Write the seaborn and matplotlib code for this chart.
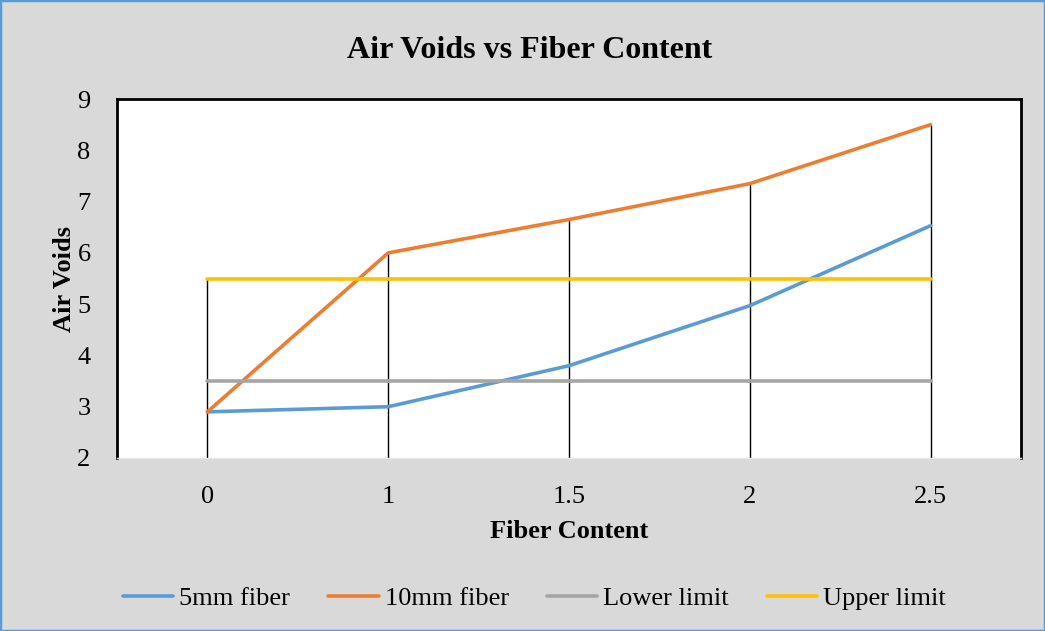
import matplotlib
matplotlib.use("Agg")
import matplotlib.pyplot as plt
import seaborn as sns
import pandas as pd
import numpy as np
from matplotlib.patches import Rectangle

categories = ["0", "1", "1.5", "2", "2.5"]
fiber_5mm = [2.9, 3.0, 3.8, 4.97, 6.53]
fiber_10mm = [2.9, 6.0, 6.65, 7.35, 8.5]
lower_limit = [3.5, 3.5, 3.5, 3.5, 3.5]
upper_limit = [5.5, 5.5, 5.5, 5.5, 5.5]

series_names = ["5mm fiber", "10mm fiber", "Lower limit", "Upper limit"]
colors = ["#5b9bd5", "#ed7d31", "#a5a5a5", "#ffc000"]

sns.set_theme(style="white")
plt.rcParams['font.family'] = ['Liberation Serif', 'DejaVu Serif']
plt.rcParams['text.color'] = 'black'
plt.rcParams['axes.labelcolor'] = 'black'
plt.rcParams['xtick.color'] = 'black'
plt.rcParams['ytick.color'] = 'black'

df = pd.DataFrame({
    "Fiber Content": categories * 4,
    "pos": list(range(len(categories))) * 4,
    "Air Voids": fiber_5mm + fiber_10mm + lower_limit + upper_limit,
    "Series": sum([[n] * len(categories) for n in series_names], []),
})

fig = plt.figure(figsize=(10.45, 6.31), dpi=100, facecolor="#d9d9d9")
ax = fig.add_axes([117/1045, 1 - 458/631, (1021-117)/1045, (458-99)/631])
ax.set_facecolor("white")

# drop lines
tops = np.max(np.array([fiber_5mm, fiber_10mm, lower_limit, upper_limit]), axis=0)
ax.vlines(range(len(categories)), 2, tops, color="black", lw=1.0, zorder=1)

sns.lineplot(data=df, x="pos", y="Air Voids", hue="Series", palette=colors,
             hue_order=series_names, ax=ax, lw=2.6, legend=True, zorder=3)

ax.set_xlim(-0.5, 4.5)
ax.set_ylim(2, 9)
ax.set_xticks(range(len(categories)))
ax.set_xticklabels(categories)
ax.set_yticks(range(2, 10))
ax.tick_params(axis="both", labelsize=19, length=0, colors="black")
ax.tick_params(axis="x", pad=20)
ax.tick_params(axis="y", pad=19)

for s in ["top", "left", "right"]:
    ax.spines[s].set_color("black")
    ax.spines[s].set_linewidth(2.0)
ax.spines["bottom"].set_color("#e6e6e6")
ax.spines["bottom"].set_linewidth(1.0)

ax.set_xlabel("Fiber Content", fontsize=19, fontweight="bold", labelpad=9, color="black")
ax.set_ylabel("Air Voids", fontsize=19, fontweight="bold", labelpad=1, color="black")
fig.suptitle("Air Voids vs Fiber Content", fontsize=23, fontweight="bold",
             x=529.5/1045, y=1 - 50/631, va="center", color="black")

h, l = ax.get_legend_handles_labels()
ax.legend_.remove()
leg = fig.legend(h, l, loc="center", bbox_to_anchor=(0.5115, 1 - 598/631), ncol=4, frameon=False,
                 fontsize=19, handlelength=1.9, handletextpad=0.23, columnspacing=1.45)
for t in leg.get_texts():
    t.set_color("black")

fig.patches.append(Rectangle((0.0, 0.0), 1, 1, transform=fig.transFigure, fill=False,
                             edgecolor="#5b9bd5", lw=2.5))

fig.savefig("out.png", dpi=100, facecolor=fig.get_facecolor())
